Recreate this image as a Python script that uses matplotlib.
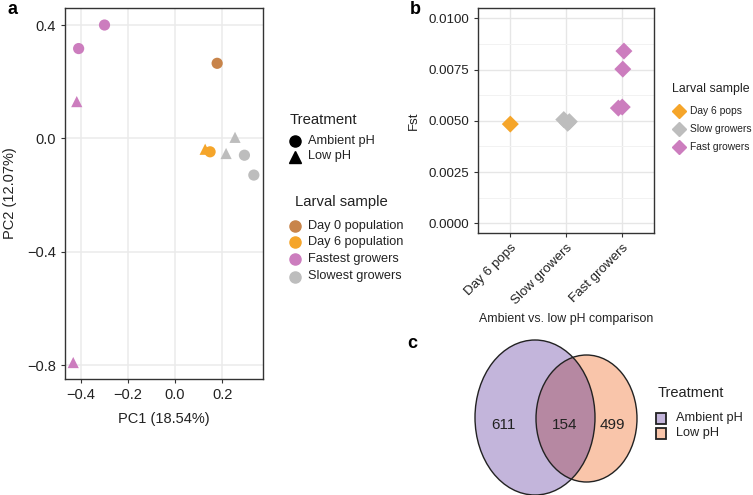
import matplotlib
matplotlib.use("Agg")
import matplotlib.pyplot as plt
from matplotlib.patches import Ellipse, Rectangle
import numpy as np

plt.rcParams['font.family'] = ['Liberation Sans', 'DejaVu Sans']

# ---------------- Data ----------------
# Panel a: PCA
pca_group = ["Fastest growers", "Fastest growers", "Fastest growers", "Fastest growers",
             "Day 0 population", "Day 6 population", "Day 6 population",
             "Slowest growers", "Slowest growers", "Slowest growers", "Slowest growers"]
pca_treat = ["Ambient pH", "Ambient pH", "Low pH", "Low pH",
             "Ambient pH", "Low pH", "Ambient pH",
             "Low pH", "Low pH", "Ambient pH", "Ambient pH"]
pc1 = [-0.300, -0.410, -0.418, -0.433, 0.179, 0.128, 0.149, 0.255, 0.217, 0.295, 0.335]
pc2 = [0.400, 0.317, 0.130, -0.790, 0.265, -0.038, -0.047, 0.004, -0.053, -0.059, -0.129]
larval_levels = ["Day 0 population", "Day 6 population", "Fastest growers", "Slowest growers"]
treat_levels = ["Ambient pH", "Low pH"]

# Panel b: Fst
fst_cats = ["Day 6 pops", "Slow growers", "Fast growers"]
fst_group = ["Day 6 pops", "Slow growers", "Slow growers", "Slow growers",
             "Fast growers", "Fast growers", "Fast growers", "Fast growers"]
fst_jitter = [0.0, -0.04, 0.03, 0.06, 0.04, 0.02, -0.06, 0.01]
fst_vals = [0.00484, 0.00506, 0.00488, 0.00496, 0.00840, 0.00752, 0.00562, 0.00567]

# Panel c: Venn
venn_labels = ["Ambient pH", "Low pH"]
venn_counts = [611, 154, 499]  # only ambient, both, only low

col_larval = {"Day 0 population": "#C8844A", "Day 6 population": "#F5A52A",
              "Fastest growers": "#CC7DBE", "Slowest growers": "#BDBDBD"}
col_fst = {"Day 6 pops": "#F5A52A", "Slow growers": "#BDBDBD", "Fast growers": "#CC7DBE"}
marker_treat = {"Ambient pH": "o", "Low pH": "^"}

W, H = 753, 495
fig = plt.figure(figsize=(W / 100, H / 100), dpi=100)
TXT = "#222222"

def px_axes(l, t, r, b):
    return fig.add_axes([l / W, 1 - b / H, (r - l) / W, (b - t) / H])

def style_axes(ax):
    for s in ax.spines.values():
        s.set_color("#333333")
        s.set_linewidth(1.0)
    ax.set_axisbelow(True)
    ax.tick_params(colors="#333333", length=3, width=0.8, labelcolor=TXT)

# overlay axes in figure pixel coordinates (for legends and the Venn diagram)
ov = fig.add_axes([0, 0, 1, 1], zorder=-1)
ov.set_xlim(0, W)
ov.set_ylim(H, 0)
ov.axis("off")

# ---------------- Panel a ----------------
axa = px_axes(65, 8, 263, 379)
style_axes(axa)
for x, y, g, t in zip(pc1, pc2, pca_group, pca_treat):
    axa.scatter(x, y, s=65, color=col_larval[g], marker=marker_treat[t],
                edgecolors="none", zorder=3)
axa.set_xlim(-0.468, 0.374)
axa.set_ylim(-0.848, 0.46)
axa.set_xticks([-0.4, -0.2, 0.0, 0.2])
axa.set_yticks([0.4, 0.0, -0.4, -0.8])
axa.set_xticklabels(["\u22120.4", "\u22120.2", "0.0", "0.2"])
axa.set_yticklabels(["0.4", "0.0", "\u22120.4", "\u22120.8"])
axa.tick_params(labelsize=10.5)
axa.grid(True, color="#EBEBEB", linewidth=1.1)
axa.set_xlabel("PC1 (18.54%)", fontsize=10.5, color=TXT, labelpad=7)
axa.set_ylabel("PC2 (12.07%)", fontsize=10.5, color=TXT, labelpad=7)

# legend a: Treatment
ov.text(290, 120, "Treatment", fontsize=10.7, color=TXT, ha="left", va="center")
for t, yy in zip(treat_levels, [140.7, 156.5]):
    ov.plot([295.5], [yy], marker=marker_treat[t], color="black", markersize=8,
            linestyle="none")
    ov.text(308, yy, t, fontsize=9.2, color=TXT, ha="left", va="center")
# legend a: Larval sample
ov.text(295, 201.7, "Larval sample", fontsize=10.7, color=TXT, ha="left", va="center")
for g, yy in zip(larval_levels, [225.5, 242.3, 259.3, 276.5]):
    ov.plot([295.5], [yy], marker="o", color=col_larval[g], markersize=8,
            linestyle="none")
    ov.text(308, yy, g, fontsize=9.2, color=TXT, ha="left", va="center")

# ---------------- Panel b ----------------
axb = px_axes(478, 8, 654, 233)
style_axes(axb)
xpos = {c: i + 1 for i, c in enumerate(fst_cats)}
for g, j, v in zip(fst_group, fst_jitter, fst_vals):
    axb.scatter(xpos[g] + j, v, s=75, marker="D", color=col_fst[g],
                edgecolors="none", zorder=3)
axb.set_xlim(0.42, 3.58)
axb.set_ylim(-0.00047, 0.0105)
axb.set_yticks([0.0, 0.0025, 0.005, 0.0075, 0.01])
axb.set_yticklabels(["0.0000", "0.0025", "0.0050", "0.0075", "0.0100"])
axb.set_yticks([0.00125, 0.00375, 0.00625, 0.00875], minor=True)
axb.tick_params(which="minor", length=0)
axb.set_xticks([1, 2, 3])
axb.set_xticklabels(fst_cats, rotation=45, ha="right", rotation_mode="anchor")
axb.tick_params(labelsize=9.6)
axb.grid(True, which="major", color="#E6E6E6", linewidth=1.0)
axb.grid(True, which="minor", axis="y", color="#F2F2F2", linewidth=0.7)
axb.set_ylabel("Fst", fontsize=9.5, color=TXT, labelpad=6)
axb.set_xlabel("Ambient vs. low pH comparison", fontsize=8.9, color=TXT, labelpad=4)

# legend b
ov.text(672.5, 89, "Larval sample", fontsize=8.9, color=TXT, ha="left", va="center")
for c, yy in zip(fst_cats, [111, 129, 146.7]):
    ov.plot([679], [yy], marker="D", color=col_fst[c], markersize=7, linestyle="none")
    ov.text(690.5, yy, c, fontsize=7.4, color=TXT, ha="left", va="center")

# ---------------- Panel c ----------------
col_amb, col_low = "#C3B5DB", "#F9C5AA"
c1, w1, h1 = (535, 417.5), 120, 155
c2, w2, h2 = (586.5, 418.5), 101, 127
ov.add_patch(Ellipse(c1, w1, h1, facecolor=col_amb, edgecolor="none"))
ov.add_patch(Ellipse(c2, w2, h2, facecolor=col_low, edgecolor="none"))
inter = Ellipse(c1, w1, h1, facecolor="#B688A2", edgecolor="none")
ov.add_patch(inter)
inter.set_clip_path(Ellipse(c2, w2, h2, transform=ov.transData))
ov.add_patch(Ellipse(c1, w1, h1, facecolor="none", edgecolor="#222222", lw=1.0))
ov.add_patch(Ellipse(c2, w2, h2, facecolor="none", edgecolor="#222222", lw=1.0))
for xx, n in zip([503, 565, 612], venn_counts):
    ov.text(xx, 425, str(n), ha="center", va="center", fontsize=11, color=TXT)

# legend c
ov.text(657.5, 392.7, "Treatment", fontsize=10.5, color=TXT, ha="left", va="center")
for c, lab, yy in zip((col_amb, col_low), venn_labels, [418, 433]):
    ov.add_patch(Rectangle((656.5, yy - 5.5), 10, 11, facecolor=c, edgecolor="#222222",
                           linewidth=1.3))
    ov.text(676, yy, lab, fontsize=9.2, color=TXT, ha="left", va="center")

# Panel labels
fig.text(8 / W, 1 - 10 / H, "a", fontsize=13, fontweight="bold", va="center", ha="left")
fig.text(410 / W, 1 - 10 / H, "b", fontsize=13, fontweight="bold", va="center", ha="left")
fig.text(407 / W, 1 - 343 / H, "c", fontsize=13, fontweight="bold", va="center", ha="left")

fig.savefig("out.png", dpi=100)
